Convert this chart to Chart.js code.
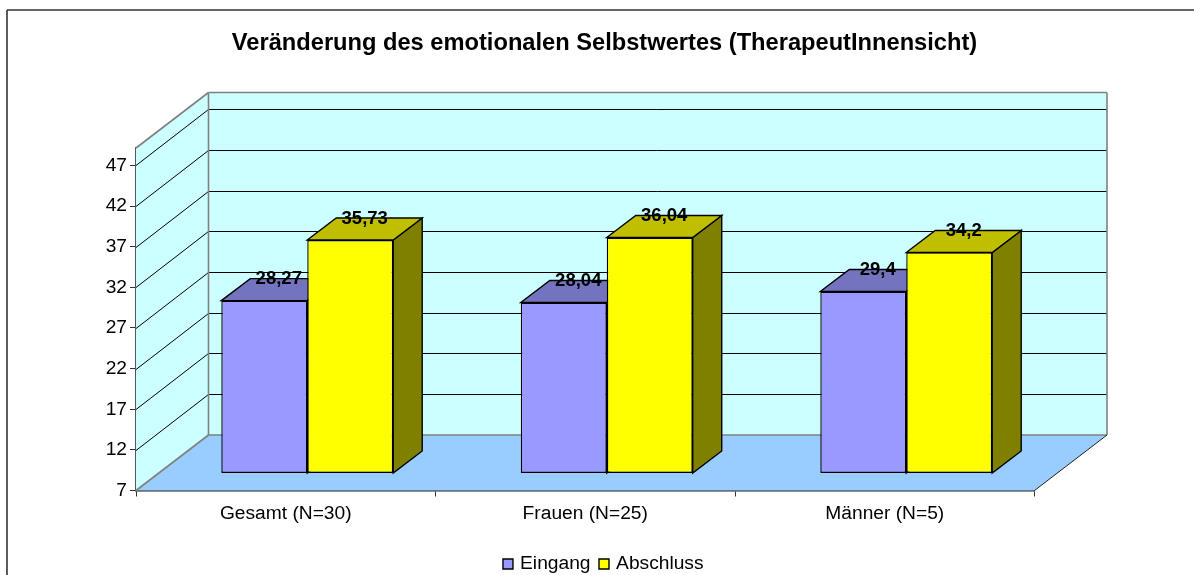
<!DOCTYPE html>
<html>
<head>
<meta charset="utf-8">
<style>html,body{margin:0;padding:0;background:#fff}canvas{display:block}</style>
<script src="https://cdn.jsdelivr.net/npm/chart.js@4/dist/chart.umd.js"></script>
</head>
<body>
<canvas id="c" width="1194" height="575"></canvas>
<script>
const categories = ['Gesamt (N=30)', 'Frauen (N=25)', 'Männer (N=5)'];
const eingang = [28.27, 28.04, 29.4];
const abschluss = [35.73, 36.04, 34.2];
const eingangLabels = ['28,27', '28,04', '29,4'];
const abschlussLabels = ['35,73', '36,04', '34,2'];
const yTicks = [7, 12, 17, 22, 27, 32, 37, 42, 47];
const yMin = 7, yMax = 49.15;
const FONT = '"Liberation Sans", Arial, sans-serif';

const WALL_DX = 72.5, WALL_DY = -55.5;   // floor depth
const BAR_DX = 21.5, BAR_DY = -17;       // bar plane inside the floor
const BAR_DEPTH_X = 29, BAR_DEPTH_Y = -22;

function poly(ctx, pts, fill, stroke, lw) {
  ctx.beginPath();
  pts.forEach((p, i) => i ? ctx.lineTo(p[0], p[1]) : ctx.moveTo(p[0], p[1]));
  ctx.closePath();
  if (fill) { ctx.fillStyle = fill; ctx.fill(); }
  if (stroke) { ctx.strokeStyle = stroke; ctx.lineWidth = lw; ctx.stroke(); }
}
function line(ctx, x0, y0, x1, y1, c, lw) {
  ctx.beginPath(); ctx.moveTo(x0, y0); ctx.lineTo(x1, y1);
  ctx.strokeStyle = c; ctx.lineWidth = lw; ctx.stroke();
}

const scene = {
  id: 'scene',
  beforeDraw(chart) {
    const ctx = chart.ctx;
    ctx.save();
    ctx.fillStyle = '#fff'; ctx.fillRect(0, 0, chart.width, chart.height);
    line(ctx, 7, 10, 1194, 10, '#333', 1.6);
    line(ctx, 7, 10, 7, 575, '#333', 1.6);
    ctx.restore();
  },
  beforeDatasetsDraw(chart) {
    const ctx = chart.ctx, a = chart.chartArea, y = chart.scales.y;
    const L = a.left, R = a.right, T = a.top, B = a.bottom;
    const bx = L + WALL_DX, bR = R + WALL_DX, bT = T + WALL_DY, bB = B + WALL_DY;
    ctx.save();
    // back wall, left wall, floor
    poly(ctx, [[bx, bT], [bR, bT], [bR, bB], [bx, bB]], '#CCFFFF');
    poly(ctx, [[L, T], [bx, bT], [bx, bB], [L, B]], '#CCFFFF');
    poly(ctx, [[L, B], [bx, bB], [bR, bB], [R, B]], '#99CCFF');
    // gridlines
    yTicks.slice(1).forEach(v => {
      const p = Math.round(y.getPixelForValue(v)) + 0.5;
      const q = p - 56;
      line(ctx, L, p, bx, q, '#000', 1);
      line(ctx, bx, q, bR, q, '#000', 1);
    });
    // wall edges
    ctx.lineJoin = 'miter';
    line(ctx, L, T, bx, bT, '#808080', 1.6);
    line(ctx, bx, bT, bR, bT, '#808080', 1.6);
    line(ctx, bx, bT, bx, bB, '#808080', 1.6);
    line(ctx, bR, bT, bR, bB, '#808080', 1.6);
    line(ctx, bx, bB, bR, bB, '#808080', 1.6);
    line(ctx, L, B, bx, bB, '#808080', 1.6);
    line(ctx, R, B, bR, bB, '#222', 1);
    // depth faces of the bars, then shift the fronts into the bar plane
    ctx.restore();
    ctx.save();
    ctx.translate(BAR_DX, BAR_DY);
    const faces = [['#7373BF', '#4D4D80'], ['#BFBF00', '#808000']];
    chart.data.datasets.forEach((ds, i) => {
      chart.getDatasetMeta(i).data.forEach(b => {
        const l = b.x - b.width / 2, r = b.x + b.width / 2, t = b.y, u = b.base;
        poly(ctx, [[r, t], [r + BAR_DEPTH_X, t + BAR_DEPTH_Y], [r + BAR_DEPTH_X, u + BAR_DEPTH_Y], [r, u]], faces[i][1], '#000', 1.4);
        poly(ctx, [[l, t], [l + BAR_DEPTH_X, t + BAR_DEPTH_Y], [r + BAR_DEPTH_X, t + BAR_DEPTH_Y], [r, t]], faces[i][0], '#000', 1.4);
      });
    });
  },
  afterDatasetsDraw(chart) {
    const ctx = chart.ctx;
    ctx.restore();
    ctx.save();
    ctx.font = 'bold 18.5px ' + FONT;
    ctx.fillStyle = '#000';
    ctx.textAlign = 'center';
    ctx.textBaseline = 'middle';
    const texts = [eingangLabels, abschlussLabels];
    chart.data.datasets.forEach((ds, i) => {
      chart.getDatasetMeta(i).data.forEach((b, j) => {
        ctx.fillText(texts[i][j], b.x + BAR_DX + 14.5, b.y + BAR_DY - 21.5);
      });
    });
    ctx.restore();
  }
};

new Chart(document.getElementById('c'), {
  type: 'bar',
  plugins: [scene],
  data: {
    labels: categories,
    datasets: [
      { label: 'Eingang', data: eingang, backgroundColor: '#9999FF', borderColor: '#000', borderWidth: 1.4, borderSkipped: false, clip: false, yAxisID: 'y' },
      { label: 'Abschluss', data: abschluss, backgroundColor: '#FFFF00', borderColor: '#000', borderWidth: 1.4, borderSkipped: false, clip: false, yAxisID: 'y' }
    ]
  },
  options: {
    responsive: false,
    animation: false,
    layout: { padding: { left: 15, right: 0, top: 0, bottom: -8.6 } },
    datasets: { bar: { categoryPercentage: 0.574, barPercentage: 1, base: yMin } },
    plugins: {
      tooltip: { enabled: false },
      title: {
        display: true,
        text: 'Veränderung des emotionalen Selbstwertes (TherapeutInnensicht)',
        color: '#000',
        font: { family: FONT, size: 23.66, weight: 'bold' },
        padding: { top: 29, bottom: 90.6 },
        align: 'center'
      },
      legend: {
        position: 'bottom',
        labels: {
          color: '#000',
          font: { family: FONT, size: 19.2 },
          usePointStyle: true,
          pointStyle: 'rect',
          boxWidth: 5,
          boxHeight: 10,
          padding: 11
        }
      }
    },
    scales: {
      x: {
        type: 'category',
        grid: { display: true, offset: true, drawOnChartArea: false, color: '#333', tickLength: 6 },
        border: { color: '#222', width: 1.5 },
        ticks: { color: '#000', font: { family: FONT, size: 19.2 }, padding: 5.5, maxRotation: 0 },
        afterFit(s) { s.height = 52.9; }
      },
      y: {
        min: yMin, max: yMax,
        afterBuildTicks(s) { s.ticks = yTicks.map(v => ({ value: v })); },
        grid: { drawOnChartArea: false, color: '#333', tickLength: 6 },
        border: { color: '#555', width: 1.5 },
        ticks: { color: '#000', font: { family: FONT, size: 19.2 }, padding: 3 },
        afterFit(s) { s.width = 121; }
      },
      depthMargin: {
        position: 'right',
        display: true,
        grid: { display: false },
        border: { display: false },
        ticks: { display: false },
        afterFit(s) { s.width = 159.5; }
      }
    }
  }
});
</script>
</body>
</html>
